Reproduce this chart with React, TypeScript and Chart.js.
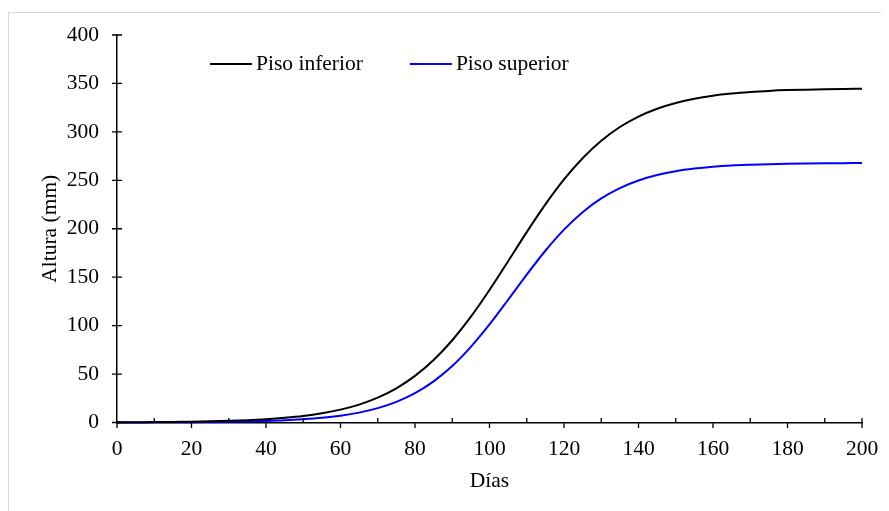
import React, { useEffect, useRef } from "react";
import { Chart, registerables } from "chart.js";

Chart.register(...registerables);

const days = [
  0, 5, 10, 15, 20, 25, 30, 35, 40, 45, 50, 55, 60, 65, 70, 75, 80, 85, 90, 95, 100,
  105, 110, 115, 120, 125, 130, 135, 140, 145, 150, 155, 160, 165, 170, 175, 180, 185, 190, 195, 200,
];

const pisoInferior = [
  0.2, 0.3, 0.4, 0.6, 0.8, 1.2, 1.7, 2.4, 3.4, 4.8, 6.7, 9.5, 13.3, 18.5, 25.7, 35.3, 48.1, 64.5, 84.9, 109.2, 136.8,
  166.5, 196.5, 225.1, 250.9, 272.8, 290.8, 305.0, 315.8, 323.9, 329.8, 334.2, 337.3, 339.5, 341.1, 342.3, 343.1, 343.6, 344.0, 344.3, 344.5,
];

const pisoSuperior = [
  0.07, 0.1, 0.15, 0.2, 0.3, 0.5, 0.7, 1.0, 1.5, 2.2, 3.3, 4.8, 7.0, 10.2, 14.8, 21.3, 30.3, 42.5, 58.3, 78.1, 101.2,
  126.7, 152.7, 177.3, 199.1, 217.1, 231.3, 242.0, 249.8, 255.4, 259.4, 262.1, 264.0, 265.3, 266.1, 266.7, 267.1, 267.4, 267.6, 267.7, 267.8,
];

const seriesLabels = ["Piso inferior", "Piso superior"];
const seriesColors = ["#000000", "#0000ff"];

const xMajorTicks = [0, 20, 40, 60, 80, 100, 120, 140, 160, 180, 200];
const xMinorTicks = [10, 30, 50, 70, 90, 110, 130, 150, 170, 190, 200];
const yMajorTicks = [0, 50, 100, 150, 200, 250, 300, 350, 400];

const FONT = "'Liberation Serif', 'Times New Roman', serif";
const FS = 21.5;

const tickPlugin = {
  id: "customTicksLegend",
  afterDraw(chart: any) {
    const ctx = chart.ctx;
    const xs = chart.scales.x;
    const ys = chart.scales.y;
    const x0 = xs.getPixelForValue(0);
    const y0 = ys.getPixelForValue(0);
    ctx.save();
    ctx.strokeStyle = "#000";
    ctx.lineWidth = 1.3;
    ctx.beginPath();
    for (const v of yMajorTicks) {
      const py = ys.getPixelForValue(v);
      ctx.moveTo(x0 - 5, py);
      ctx.lineTo(x0 + 5, py);
    }
    for (const v of xMajorTicks) {
      const px = xs.getPixelForValue(v);
      ctx.moveTo(px, y0);
      ctx.lineTo(px, y0 + 5.5);
    }
    for (const v of xMinorTicks) {
      const px = xs.getPixelForValue(v);
      ctx.moveTo(px, y0 - 4.5);
      ctx.lineTo(px, y0);
    }
    ctx.stroke();

    // legend
    ctx.font = `${FS}px ${FONT}`;
    ctx.textBaseline = "middle";
    ctx.textAlign = "left";
    let lx = chart.chartArea.left + 93;
    const ly = chart.chartArea.top + 29;
    chart.data.datasets.forEach((ds: any) => {
      ctx.strokeStyle = ds.borderColor;
      ctx.lineWidth = 2;
      ctx.beginPath();
      ctx.moveTo(lx, ly);
      ctx.lineTo(lx + 42, ly);
      ctx.stroke();
      ctx.fillStyle = "#000";
      ctx.fillText(ds.label, lx + 46, ly);
      lx += 46 + ctx.measureText(ds.label).width + 47;
    });
    ctx.restore();
  },
};

export default function App() {
  const ref = useRef<HTMLCanvasElement | null>(null);

  useEffect(() => {
    if (!ref.current) return;
    const chart = new Chart(ref.current, {
      type: "line",
      data: {
        datasets: [pisoInferior, pisoSuperior].map((vals, i) => ({
          label: seriesLabels[i],
          data: days.map((d, j) => ({ x: d, y: vals[j] })),
          borderColor: seriesColors[i],
          backgroundColor: seriesColors[i],
          borderWidth: 2,
          pointRadius: 0,
          cubicInterpolationMode: "monotone" as const,
          clip: false as any,
        })),
      },
      options: {
        animation: false,
        responsive: false,
        layout: { padding: { left: 0, right: 27, top: 22, bottom: 0 } },
        plugins: {
          legend: { display: false },
          tooltip: { enabled: false },
        },
        scales: {
          x: {
            type: "linear",
            min: 0,
            max: 200,
            afterFit: (s: any) => {
              s.height = 88.5;
              s.paddingLeft = 0;
              s.paddingRight = 0;
            },
            ticks: {
              stepSize: 20,
              padding: 13.5,
              color: "#000",
              font: { family: FONT, size: FS },
              maxRotation: 0,
            },
            grid: { display: false, drawTicks: false },
            border: { display: true, color: "#000", width: 1.5 },
            title: {
              display: true,
              text: "Días",
              color: "#000",
              font: { family: FONT, size: FS },
              padding: { top: 0, bottom: 17 },
            },
          },
          y: {
            type: "linear",
            min: 0,
            max: 400,
            afterFit: (s: any) => {
              s.width = 108;
              s.paddingTop = 0;
              s.paddingBottom = 0;
            },
            ticks: {
              stepSize: 50,
              padding: 18,
              color: "#000",
              font: { family: FONT, size: FS },
            },
            grid: { display: false, drawTicks: false },
            border: { display: true, color: "#000", width: 1.5 },
            title: {
              display: true,
              text: "Altura (mm)",
              color: "#000",
              font: { family: FONT, size: FS },
              padding: { top: 28, bottom: 0 },
            },
          },
        },
      },
      plugins: [tickPlugin],
    });
    return () => chart.destroy();
  }, []);

  return (
    <div style={{ paddingTop: 4 }}>
      <div
        style={{
          width: 880,
          height: 498,
          borderTop: "1px solid #d9d9d9",
          borderLeft: "1px solid #d9d9d9",
          overflow: "hidden",
        }}
      >
        <canvas ref={ref} width={880} height={498} style={{ display: "block" }} />
      </div>
    </div>
  );
}
